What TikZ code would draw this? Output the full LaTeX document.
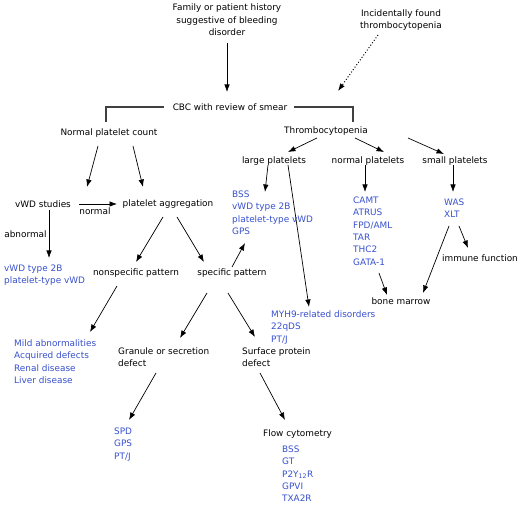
\documentclass[tikz,border=0pt]{standalone}
\usepackage{fontspec}
\setmainfont{DejaVu Sans}
\usetikzlibrary{arrows.meta}
\definecolor{listblue}{RGB}{55,80,205}

\begin{document}
\begin{tikzpicture}[x=1pt,y=-1pt]
\tikzstyle{txt}=[inner sep=1pt,font=\fontsize{8.9}{12.4}\selectfont]
\tikzstyle{lst}=[txt,text=listblue,align=left,anchor=north west]
\tikzstyle{arr}=[-{Latex[length=7.5pt,width=5.5pt]},line width=0.7pt]
\tikzstyle{elbow}=[line width=1.1pt,black!75]

\useasboundingbox (0,0) rectangle (520,510);

    % Starting points
    \node [txt,align=center] (hist) at (227,20) {Family or patient history\\suggestive of bleeding\\disorder};
    \node [txt,align=center] (incid) at (401,20) {Incidentally found\\thrombocytopenia};
    \node [txt] (cbc) at (230,107) {CBC with review of smear};

    % Platelet count
    \node [txt] (npc) at (109,133) {Normal platelet count};
    \node [txt] (thr) at (326,131) {Thrombocytopenia};
    \node [txt] (large) at (274,161) {large platelets};
    \node [txt] (normal) at (368,161) {normal platelets};
    \node [txt] (small) at (455,161) {small platelets};

    % Normal count branch
    \node [txt] (vwd) at (43,204) {vWD studies};
    \node [txt] (agg) at (168,204) {platelet aggregation};
    \node [lst] (vwdres) at (3,263.5) {vWD type 2B\\platelet-type vWD};
    \node [txt] (nonspec) at (136,273) {nonspecific pattern};
    \node [txt] (spec) at (232,273) {specific pattern};
    \node [lst] (mild) at (13,338.5) {Mild abnormalities\\Acquired defects\\Renal disease\\Liver disease};
    \node [txt,align=left,anchor=north west] (granule) at (117,346.5) {Granule or secretion\\defect};
    \node [txt,align=left,anchor=north west] (surface) at (241,346.5) {Surface protein\\defect};
    \node [lst] (spd) at (113,426.5) {SPD\\GPS\\PT/J};
    \node [txt,anchor=west] (flow) at (262,434) {Flow cytometry};
    \node [lst] (flowres) at (281,444.5) {BSS\\GT\\P2Y\textsubscript{12}R\\GPVI\\TXA2R};

    % Thrombocytopenia branch
    \node [lst] (bss) at (231,189.5) {BSS\\vWD type 2B\\platelet-type vWD\\GPS};
    \node [lst] (camt) at (352,195.5) {CAMT\\ATRUS\\FPD/AML\\TAR\\THC2\\GATA-1};
    \node [lst] (was) at (443,197.5) {WAS\\XLT};
    \node [lst] (myh) at (270,309.5) {MYH9-related disorders\\22qDS\\PT/J};
    \node [txt] (immune) at (480,258) {immune function};
    \node [txt] (bone) at (401,301) {bone marrow};

    % Entry
    \draw [arr] ([shift={(0,23)}]hist.center) -- ([shift={(-3,-15)}]cbc.center);
    \draw [arr,dash pattern=on 1pt off 2pt,line width=1pt] ([shift={(-23,15)}]incid.center) -- ([shift={(108,-16)}]cbc.center);
    \draw [elbow] ([xshift=-66pt]cbc.center) -| ([shift={(-3,-11)}]npc.center);
    \draw [elbow] ([xshift=64pt]cbc.center) -| ([shift={(27,-9)}]thr.center);

    % Normal count
    \draw [arr] ([shift={(-11,13)}]npc.center) -- ([shift={(44,-17)}]vwd.center);
    \draw [arr] ([shift={(24,13)}]npc.center) -- ([shift={(-25,-17)}]agg.center);
    \draw [arr] ([shift={(36,0)}]vwd.center) -- node [txt,below=2pt,pos=0.42] {normal} ([shift={(-51,0)}]agg.center);
    \draw [arr] ([shift={(6,6)}]vwd.center) -- node [txt,left=1pt] {abnormal} ([shift={(46,-5.5)}]vwdres.north west);
    \draw [arr] ([shift={(-5,13)}]agg.center) -- ([shift={(0,-11)}]nonspec.center);
    \draw [arr] ([shift={(9,13)}]agg.center) -- ([shift={(-28,-11)}]spec.center);
    \draw [arr] ([shift={(0,-6)}]spec.center) -- ([shift={(14,53.5)}]bss.north west);
    \draw [arr] ([shift={(-19,13)}]nonspec.center) -- ([shift={(77,-6.5)}]mild.north west);
    \draw [arr] ([shift={(-25,20)}]spec.center) -- ([shift={(63,-8.5)}]granule.north west);
    \draw [arr] ([shift={(-4,20)}]spec.center) -- ([shift={(14,-9.5)}]surface.north west);
    \draw [arr] ([shift={(39,26.5)}]granule.north west) -- ([shift={(16,-6.5)}]spd.north west);
    \draw [arr] ([shift={(19,26.5)}]surface.north west) -- ([shift={(23,-14)}]flow.west);

    % Thrombocytopenia
    \draw [arr] ([shift={(-9,7)}]thr.center) -- ([shift={(14,-9)}]large.center);
    \draw [arr] ([shift={(29,7)}]thr.center) -- ([shift={(16,-9)}]normal.center);
    \draw [arr] ([shift={(82,7)}]thr.center) -- ([shift={(-11,-7)}]small.center);
    \draw [arr] ([shift={(-6,4)}]large.center) -- ([shift={(34,2.5)}]bss.north west);
    \draw [arr] ([shift={(14,4)}]large.center) -- ([shift={(39,-2.5)}]myh.north west);
    \draw [arr] ([shift={(-3,4)}]normal.center) -- ([shift={(13,-3.5)}]camt.north west);
    \draw [arr] ([shift={(-2,4)}]small.center) -- ([shift={(10,-5.5)}]was.north west);
    \draw [arr] ([shift={(6,28.5)}]was.north west) -- ([shift={(22,-8)}]bone.center);
    \draw [arr] ([shift={(16,28.5)}]was.north west) -- ([shift={(-12,-10)}]immune.center);
    \draw [arr] ([shift={(27,77.5)}]camt.north west) -- ([shift={(-14,-6)}]bone.center);

\end{tikzpicture}
\end{document}
